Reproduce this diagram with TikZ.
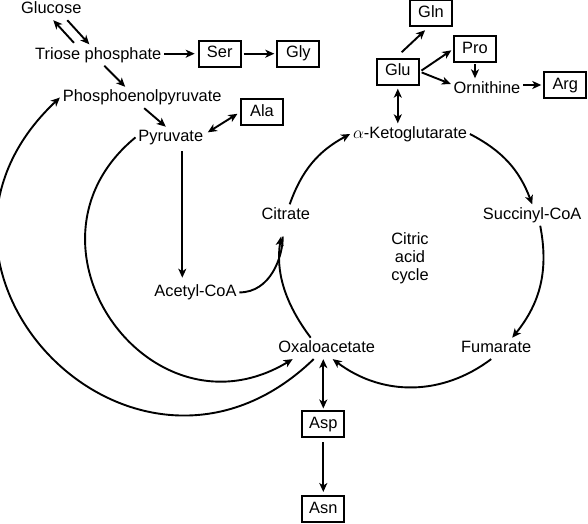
\documentclass[tikz,border=0pt]{standalone}
\usepackage{fontspec}
\setmainfont{Liberation Sans}
\usetikzlibrary{positioning,calc,arrows.meta}
\tikzset{>={Stealth[length=9pt,width=8pt,inset=2.5pt]}}

\begin{document}
\begin{tikzpicture}[
    x=1pt, y=1pt,
    line width=1.9pt,
    font=\fontsize{16.4}{18}\selectfont,
    metab/.style={inner sep=2pt, text height=12pt, text depth=3.5pt},
    amino/.style={metab, draw, line width=2pt, minimum width=42pt, minimum height=26pt, inner sep=0pt},
    cyclelbl/.style={align=center, inner sep=0pt}
]
\useasboundingbox (0,0) rectangle (588,523);

% glycolysis side
\node[metab] (glc) at (51.3,513.5) {Glucose};
\node[metab] (tri) at (98.3,468) {Triose phosphate};
\node[amino] (ser) at (219.7,469.3) {Ser};
\node[amino] (gly) at (298.3,469.3) {Gly};
\node[metab] (pep) at (142.2,425.5) {Phosphoenolpyruvate};
\node[amino] (ala) at (262,410.8) {Ala};
\node[metab] (pyr) at (170.8,385.6) {Pyruvate};
\node[metab] (acoa) at (195.5,230.6) {Acetyl-CoA};

% citric acid cycle
\node[metab] (cit) at (285.8,308) {Citrate};
\node[metab] (akg) at (410,389) {$\alpha$-Ketoglutarate};
\node[metab] (suc) at (532.2,308) {Succinyl-CoA};
\node[metab] (fum) at (496.2,174.6) {Fumarate};
\node[metab] (oxa) at (326.7,174.6) {Oxaloacetate};
\node[cyclelbl] (cac) at (410,264.25) {Citric\\acid\\cycle};

% amino acids
\node[amino] (asp) at (323.3,99) {Asp};
\node[amino] (asn) at (323.3,14) {Asn};
\node[amino] (glu) at (397.8,451.3) {Glu};
\node[amino] (gln) at (431,509.5) {Gln};
\node[amino] (pro) at (475,473.8) {Pro};
\node[metab] (orn) at (487,434) {Ornithine};
\node[amino] (arg) at (565.3,438) {Arg};

\draw[->, shorten <=2pt] ([xshift=-23pt]tri.north) -- ([xshift=2pt]glc.south);
\draw[->] ([xshift=16pt]glc.south) -- ([xshift=-9pt]tri.north);
\draw[->, shorten >=3pt] (ser.west -| tri.east) -- (ser.west);
\draw[->, shorten <=2pt, shorten >=2pt] (ser) -- (gly);
\draw[->] ([xshift=6pt]tri.south) -- ([xshift=-17pt]pep.north);
\draw[->] ([xshift=2pt]pep.south) -- ([xshift=-5pt]pyr.north);
\draw[<->, shorten <=2pt, shorten >=3pt] ([yshift=4pt]pyr.east) -- (ala.west);
\draw[->, shorten <=3pt, shorten >=4pt] ([xshift=11.5pt]pyr.south) -- ([xshift=11.5pt]pyr.south |- acoa.north);

% cycle
\draw[->] (cit.70) to[bend left=21] (akg.west);
\draw[->] (akg.east) to[bend left=21] (suc.north);
\draw[->] ([xshift=8pt]suc.south) to[bend left=25] ([xshift=16pt]fum.north);
\draw[->] ([xshift=-5pt]fum.south) to[bend left=37] ([xshift=6pt]oxa.south);
\draw[->, shorten >=11pt] ([xshift=-16pt]oxa.north) to[bend left=23] ([xshift=-3pt]cit.south);
\draw[shorten >=11pt] (acoa.east) to[out=0, in=-90] ([xshift=-3pt]cit.south);

% big arcs on the left
\draw[->] (pyr.west) .. controls +(-129,-106) and +(-143,-86) .. ([xshift=-34pt]oxa.south);
\draw[->] ([xshift=-13pt]oxa.south) .. controls +(-179,-173) and +(-181,-170) .. (pep.west);

\draw[<->, shorten >=1.5pt] (asp.north |- oxa.south) -- (asp.north);
\draw[->, shorten <=4pt, shorten >=3pt] (asp) -- (asn);

% glutamate family
\draw[<->, shorten <=3pt] (glu.south) -- (glu.south |- akg.north);
\draw[->, shorten <=8pt, shorten >=4pt] ([xshift=-2pt]glu.north) -- ([xshift=-3pt]gln.south);
\draw[->, shorten <=2pt, shorten >=2pt] (glu.east) -- (pro.west);
\draw[->, shorten <=2pt] (glu.east) -- ([yshift=5pt]orn.west);
\draw[->, shorten <=1pt] (pro.south) -- (pro.south |- orn.north);
\draw[->, shorten >=2pt] (arg.west -| orn.east) -- (arg.west);
\end{tikzpicture}
\end{document}
